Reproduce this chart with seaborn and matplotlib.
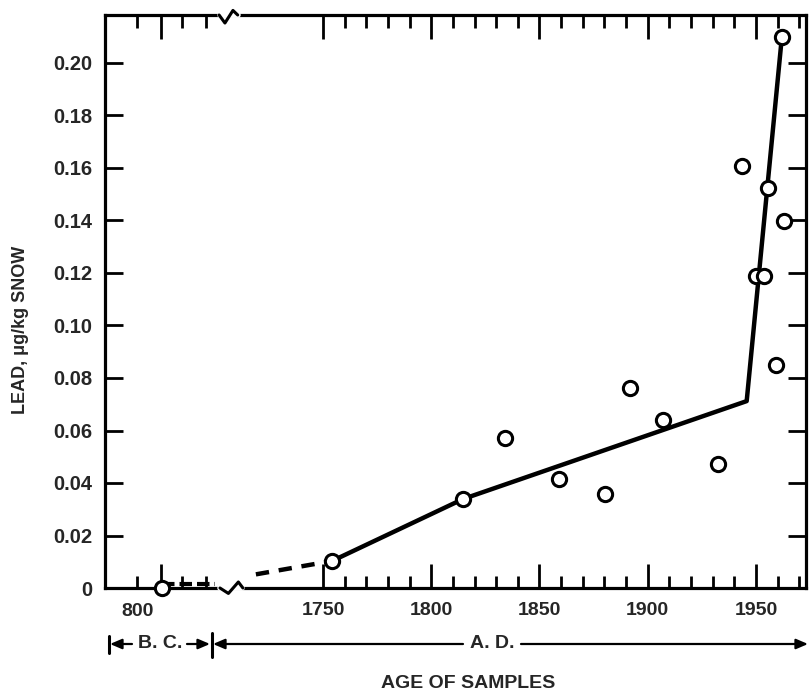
import matplotlib
matplotlib.use("Agg")
import matplotlib.pyplot as plt
import seaborn as sns
import numpy as np
import pandas as pd

# ---------------- data ----------------
# AD samples: year, lead (ug/kg snow)
ad_years = [1754.2, 1814.7, 1834.1, 1859.1, 1880.1, 1891.8, 1907.2, 1932.6,
            1943.4, 1949.9, 1953.7, 1955.7, 1959.1, 1961.9, 1962.8]
ad_lead = [0.0103, 0.0339, 0.0573, 0.0415, 0.0358, 0.0763, 0.0640, 0.0472,
           0.1609, 0.1189, 0.1189, 0.1525, 0.0850, 0.2100, 0.1398]
# BC sample
bc_label = "800"
bc_lead = [0.0]
# trend line vertices
fit_years = [1754.2, 1814.7, 1945.7, 1961.9]
fit_lead = [0.0103, 0.0339, 0.0712, 0.2095]
# dashed extrapolation and near-zero BC line
dash_years = [1719.0, 1754.2]
dash_lead = [0.0052, 0.0103]
bc_line_x = [1675.5, 1700.0]
bc_line_y = [0.0015, 0.0015]

x_major = [1750, 1800, 1850, 1900, 1950]
x_minor = list(range(1760, 1971, 10))
y_ticks = [0, 0.02, 0.04, 0.06, 0.08, 0.10, 0.12, 0.14, 0.16, 0.18, 0.20]
y_labels = ["0", "0.02", "0.04", "0.06", "0.08", "0.10", "0.12", "0.14",
            "0.16", "0.18", "0.20"]

# Broken-axis layout: BC section sits on a virtual coordinate left of the break
BC_POS = 1675.0              # virtual x of the 800 B.C. position
bc_ticks_minor = [1664.0, 1685.0, 1696.0]

# ---------------- style ----------------
sns.set_style("ticks")
plt.rcParams['font.family'] = ['Liberation Sans', 'DejaVu Sans']
plt.rcParams['font.weight'] = 'bold'

W, H = 809, 692
fig = plt.figure(figsize=(W / 100, H / 100), dpi=100)
L, R, T, B = 105, 806, 15, 588
ax = fig.add_axes([L / W, 1 - B / H, (R - L) / W, (B - T) / H])

ax.set_xlim(1649.3, 1973.1)
ax.set_ylim(0, (B - T) / 2625)

# lines
sns.lineplot(x=fit_years, y=fit_lead, ax=ax, color="black", lw=3.2,
             sort=False, estimator=None, zorder=3)
sns.lineplot(x=dash_years, y=dash_lead, ax=ax, color="black", lw=3.2,
             linestyle=(0, (3, 2.2)), sort=False, estimator=None, zorder=3)
sns.lineplot(x=bc_line_x, y=bc_line_y, ax=ax, color="black", lw=3.0,
             linestyle=(0, (3, 1.2)), sort=False, estimator=None, zorder=3)

# points
pts = pd.DataFrame({"x": ad_years + [BC_POS + 0.6], "y": ad_lead + bc_lead})
sns.scatterplot(data=pts, x="x", y="y", ax=ax, marker="o", s=105,
                facecolor="white", edgecolor="black", linewidth=2.2,
                zorder=6, clip_on=False, legend=False)

# spines
for sp in ax.spines.values():
    sp.set_linewidth(2.3)
    sp.set_color("black")
    sp.set_visible(True)

# ticks
ax.set_xticks(x_major + [BC_POS])
ax.set_xticklabels([str(v) for v in x_major] + [""])
ax.set_xticks(x_minor + bc_ticks_minor, minor=True)
ax.set_yticks(y_ticks)
ax.set_yticklabels(y_labels)
ax.tick_params(axis="x", which="major", direction="in", length=17, width=2.0,
               top=True, bottom=True, labelsize=14, pad=10, color="black")
ax.tick_params(axis="x", which="minor", direction="in", length=9, width=2.0,
               top=True, bottom=True, color="black")
ax.tick_params(axis="y", which="major", direction="in", length=13, width=2.0,
               left=True, right=True, labelsize=14.5, pad=9, color="black")
for lab in ax.get_xticklabels() + ax.get_yticklabels():
    lab.set_fontweight("bold")

# label for the BC tick
ax.annotate(bc_label, xy=(138, H - 611), xycoords="figure pixels",
            ha="center", va="center", fontsize=14, fontweight="bold")

ax.set_xlabel("")
ax.set_ylabel("LEAD, μg/kg SNOW", fontsize=13, fontweight="bold", va="center")
ax.yaxis.set_label_coords((21 - L) / (R - L), (B - 330) / (B - T))

# axis break zig-zags
ax.plot([1702.4, 1712.6], [0, 0], color="white", lw=4, clip_on=False, zorder=7,
        transform=ax.get_xaxis_transform())
ax.plot([1702.4, 1706.3, 1710.9, 1713.0], [0, -0.0095, 0.0105, 0],
        color="black", lw=2.2, clip_on=False, zorder=8,
        transform=ax.get_xaxis_transform())
ax.plot([1702.4, 1710.6], [1, 1], color="white", lw=4, clip_on=False, zorder=7,
        transform=ax.get_xaxis_transform())
ax.plot([1702.0, 1704.7, 1708.4, 1710.6], [1, 0.986, 1.008, 1],
        color="black", lw=2.2, clip_on=False, zorder=8,
        transform=ax.get_xaxis_transform())

# B.C. / A.D. annotation row
yrow = H - 644
fig.add_artist(plt.Line2D([109 / W, 109 / W], [(H - 636) / H, (H - 653) / H],
                          color="black", lw=2.2))
fig.add_artist(plt.Line2D([211.5 / W, 211.5 / W], [(H - 633) / H, (H - 657) / H],
                          color="black", lw=2.2))
arrow_kw = dict(arrowstyle="-|>,head_length=0.7,head_width=0.3", color="black",
                lw=1.6, shrinkA=0, shrinkB=0)
ax.annotate("", xy=(110, yrow), xytext=(132, yrow), xycoords="figure pixels",
            textcoords="figure pixels", arrowprops=arrow_kw)
ax.annotate("", xy=(210, yrow), xytext=(187, yrow), xycoords="figure pixels",
            textcoords="figure pixels", arrowprops=arrow_kw)
ax.annotate("", xy=(213, yrow), xytext=(463, yrow), xycoords="figure pixels",
            textcoords="figure pixels", arrowprops=arrow_kw)
ax.annotate("", xy=(808, yrow), xytext=(521, yrow), xycoords="figure pixels",
            textcoords="figure pixels", arrowprops=arrow_kw)
ax.annotate("B. C.", xy=(160, yrow), xycoords="figure pixels", ha="center",
            va="center", fontsize=14, fontweight="bold")
ax.annotate("A. D.", xy=(492, yrow), xycoords="figure pixels", ha="center",
            va="center", fontsize=14, fontweight="bold")
ax.annotate("AGE OF SAMPLES", xy=(468, H - 683), xycoords="figure pixels",
            ha="center", va="center", fontsize=14, fontweight="bold")

fig.savefig("out.png", dpi=100, facecolor="white")
